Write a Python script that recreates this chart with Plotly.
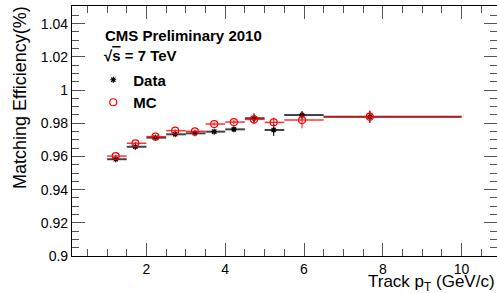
import plotly.graph_objects as go

# ---- data ----
bin_lo = [1.0, 1.5, 2.0, 2.5, 3.0, 3.5, 4.0, 4.5, 5.0, 5.5, 6.5]
bin_hi = [1.5, 2.0, 2.5, 3.0, 3.5, 4.0, 4.5, 5.0, 5.5, 6.5, 10.0]
pt_mean = [1.22, 1.72, 2.23, 2.73, 3.23, 3.72, 4.22, 4.73, 5.23, 5.95, 7.67]
eff_data = [0.9583, 0.9658, 0.9713, 0.9733, 0.9739, 0.9749, 0.9763, 0.9830, 0.9759, 0.9849, 0.9839]
err_data = [0.0008, 0.0008, 0.0008, 0.0008, 0.0010, 0.0010, 0.0015, 0.0030, 0.0036, 0.0025, 0.0036]
eff_mc = [0.9602, 0.9679, 0.9719, 0.9755, 0.9751, 0.9795, 0.9807, 0.9823, 0.9805, 0.9819, 0.9839]
err_mc = [0.0008, 0.0008, 0.0008, 0.0008, 0.0010, 0.0010, 0.0012, 0.0030, 0.0030, 0.0050, 0.0036]

y_ticks = [0.9, 0.92, 0.94, 0.96, 0.98, 1.0, 1.02, 1.04]
y_ticktext = ["0.9", "0.92", "0.94", "0.96", "0.98", "1", "1.02", "1.04"]
x_ticks = [2, 4, 6, 8, 10]

xerr_plus = [h - m for h, m in zip(bin_hi, pt_mean)]
xerr_minus = [m - l for l, m in zip(bin_lo, pt_mean)]

FONT = "Liberation Sans, Arial, Helvetica, sans-serif"
RED = "rgba(255,0,0,0.8)"

fig = go.Figure()
fig.add_trace(go.Scatter(
    x=pt_mean, y=eff_data, mode="markers", name="Data",
    marker=dict(symbol="asterisk-open", size=5, color="black",
                line=dict(color="black", width=1.2)),
    error_x=dict(type="data", symmetric=False, array=xerr_plus,
                 arrayminus=xerr_minus, color="#444", thickness=2, width=0),
    error_y=dict(type="data", array=err_data, color="#222", thickness=1.2, width=0),
))
fig.add_trace(go.Scatter(
    x=pt_mean, y=eff_mc, mode="markers", name="MC",
    marker=dict(symbol="circle-open", size=7, color="red",
                line=dict(color="red", width=1.2)),
    error_x=dict(type="data", symmetric=False, array=xerr_plus,
                 arrayminus=xerr_minus, color=RED, thickness=1.5, width=0),
    error_y=dict(type="data", array=err_mc, color=RED, thickness=1.2, width=0),
))

axis_common = dict(
    showgrid=False, zeroline=False, showline=True, linecolor="black",
    linewidth=1.2, mirror="allticks", ticks="inside", tickcolor="#555",
    ticklen=13, tickwidth=1,
    tickfont=dict(family=FONT, size=14, color="black"),
)

fig.update_layout(
    width=497, height=293,
    margin=dict(l=72, r=0, t=6, b=37),
    paper_bgcolor="white", plot_bgcolor="white",
    font=dict(family=FONT, color="black"),
    showlegend=True,
    legend=dict(x=0.05, y=0.77, xanchor="left", yanchor="top",
                bgcolor="rgba(0,0,0,0)",
                font=dict(family=FONT, size=15, color="black", weight="bold"),
                tracegroupgap=0, itemsizing="trace"),
    xaxis=dict(range=[0.11, 10.9], tickvals=x_ticks,
               minor=dict(dtick=0.5, ticklen=7, tickcolor="#555", ticks="inside"),
               **axis_common),
    yaxis=dict(range=[0.9, 1.0506], tickvals=y_ticks, ticktext=y_ticktext,
               minor=dict(dtick=0.005, tick0=0.9, ticklen=7, tickcolor="#555", ticks="inside"),
               **axis_common),
)

# texts
fig.add_annotation(text="<b>CMS Preliminary 2010</b>", xref="paper", yref="paper",
                   x=(103 - 72) / 425, y=(256 - 35) / 250, xanchor="left", yanchor="middle",
                   showarrow=False, font=dict(family=FONT, size=15, color="black"))
fig.add_annotation(text="<b>√<span style='text-decoration:overline'>s</span> = 7 TeV</b>",
                   xref="paper", yref="paper",
                   x=(102 - 72) / 425, y=(256 - 56) / 250, xanchor="left", yanchor="middle",
                   showarrow=False, font=dict(family=FONT, size=15, color="black"))
fig.add_annotation(text="Matching Efficiency(%)", xref="paper", yref="paper",
                   x=(20 - 72) / 425, y=(256 - 98) / 250, xanchor="center", yanchor="middle",
                   textangle=-90, showarrow=False,
                   font=dict(family=FONT, size=18, color="black"))
fig.add_annotation(text="Track p<sub>T</sub> (GeV/c)", xref="paper", yref="paper",
                   x=1.0, y=(256 - 283) / 250, xanchor="right", yanchor="middle",
                   showarrow=False, font=dict(family=FONT, size=17, color="black"))

fig.write_html("out.html",
               config={"displayModeBar": False},
               post_script="document.body.style.margin='0';document.body.style.overflow='hidden';")
